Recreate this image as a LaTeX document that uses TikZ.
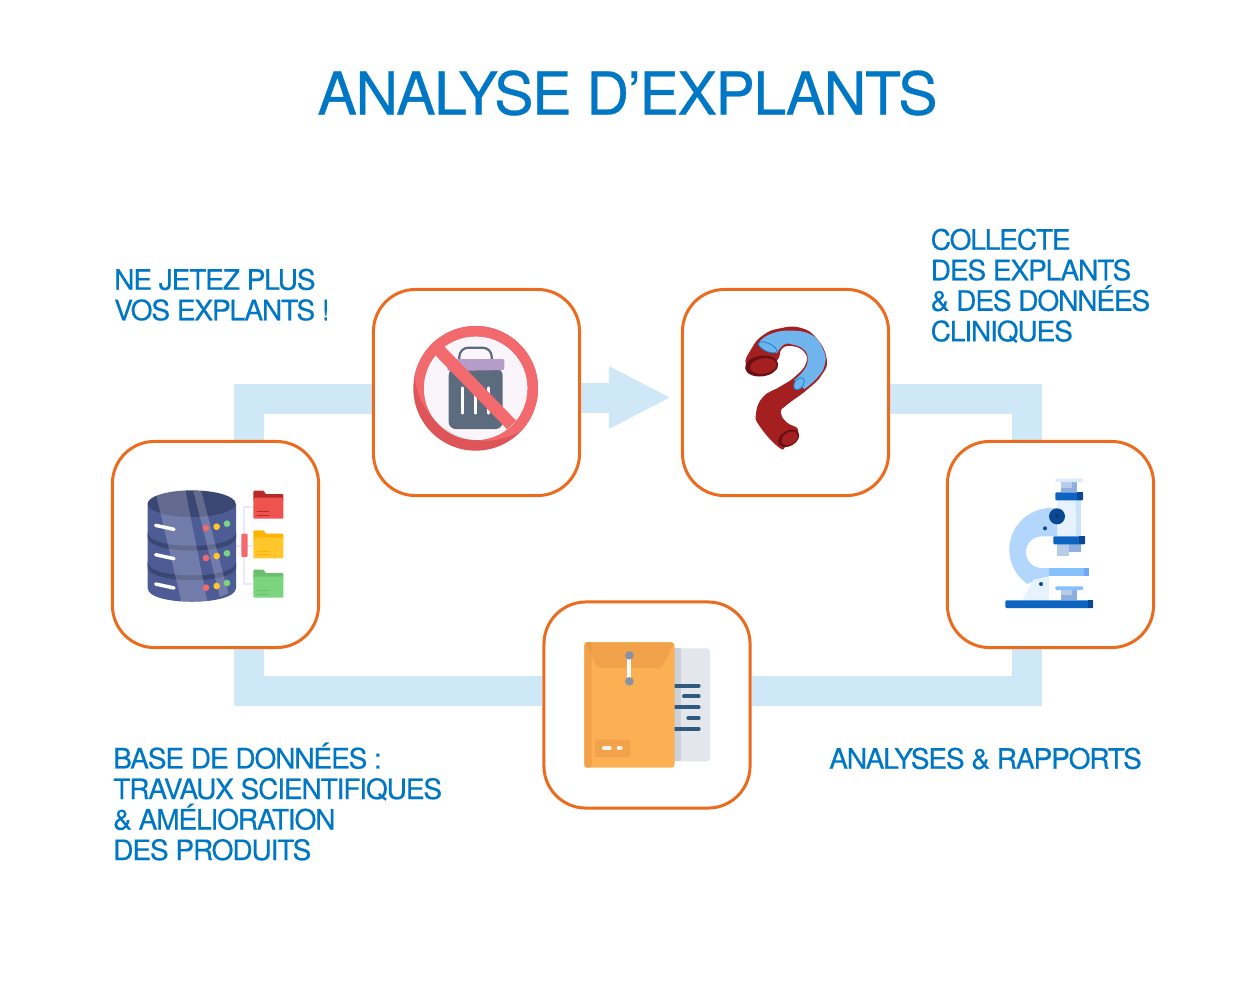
\documentclass[tikz,border=0pt]{standalone}
\usepackage{fontspec}
\setmainfont{TeX Gyre Heros}
\newfontfamily\labelfont[LetterSpace=-4.2, FakeBold=0.35]{TeX Gyre Heros}
\newfontfamily\titlefont[LetterSpace=-2.4, FakeBold=0.5]{TeX Gyre Heros}
\usetikzlibrary{arrows.meta,backgrounds}
\definecolor{titleblue}{HTML}{0077C4}
\definecolor{bandblue}{HTML}{CFE8F7}
\definecolor{boxorange}{HTML}{EC6C1F}
\definecolor{slate}{HTML}{5C6B7E}
\definecolor{lidpurple}{HTML}{B69DC9}
\definecolor{ringred}{HTML}{F2696E}
\definecolor{ringdark}{HTML}{DD5558}
\definecolor{vesselred}{HTML}{A31F20}
\definecolor{vesseldark}{HTML}{6B0E15}
\definecolor{vesselblue}{HTML}{70B4EE}
\definecolor{micblue}{HTML}{0D63C0}
\definecolor{micdark}{HTML}{0B4A93}
\definecolor{micpale}{HTML}{B3D7FC}
\definecolor{micwhite}{HTML}{E6F2FE}
\definecolor{micsky}{HTML}{85C2FC}
\definecolor{micglass}{HTML}{8FB0DE}
\definecolor{micglasslight}{HTML}{B8CCE8}
\definecolor{enveloporange}{HTML}{FBB054}
\definecolor{flapbrown}{HTML}{F2A24A}
\definecolor{flapdark}{HTML}{E89C42}
\definecolor{paperlight}{HTML}{E3E7EB}
\definecolor{papershade}{HTML}{CBD2DA}
\definecolor{paperink}{HTML}{2F5A80}
\definecolor{pingrey}{HTML}{8A93A6}
\definecolor{dbblue}{HTML}{4E5C96}
\definecolor{dbdark}{HTML}{3B4773}
\definecolor{dbline}{HTML}{E8EAFB}
\definecolor{dotyellow}{HTML}{FFC72C}
\definecolor{dotgreen}{HTML}{7BD47F}
\tikzset{
	iconbox/.style={draw=boxorange, line width=0.03cm, fill=white, rounded corners=0.42cm, minimum size=2.06cm, inner sep=0},
	band/.style={draw=bandblue, line width=0.3cm},
	labeltext/.style={text=titleblue, anchor=north west, align=left, inner sep=0, font=\labelfont\fontsize{8}{8.68}\selectfont},
	titletext/.style={text=titleblue, inner sep=0, font=\titlefont\fontsize{16.8}{18}\selectfont}
}
\begin{document}
\begin{tikzpicture}[x=0.01cm, y=-0.01cm]
		%%%%% START %%%%%
		\useasboundingbox (0, 0) rectangle (1255, 981);
		
		\node[iconbox] (trash) at (476.5, 392.5) {};
		\node[iconbox] (vessel) at (785.5, 392.5) {};
		\node[iconbox] (base) at (215.5, 544.5) {};
		\node[iconbox] (scope) at (1050.5, 544.5) {};
		\node[iconbox] (envelope) at (647, 705) {};
		
		\coordinate (topleft) at (249, 399);
		\coordinate (topright) at (1026.5, 399);
		\coordinate (lowleft) at (249, 691);
		\coordinate (lowright) at (1026.5, 691);
		\coordinate (arrowtip) at (671, 397.5);
		
		% bands go under the boxes
		\begin{pgfonlayer}{background}
			\draw[band] (topleft |- base.north) -- (topleft) -- (topleft -| trash.west);
			\draw[band] (topright -| vessel.east) -- (topright) -- (topright |- scope.north);
			\draw[band] (lowright |- scope.south) -- (lowright) -- (lowright -| envelope.east);
			\draw[band] (lowleft -| envelope.west) -- (lowleft) -- (lowleft |- base.south);
			\draw[band, -{Triangle[length=0.62cm, width=0.58cm]}] (trash.east |- arrowtip) -- (arrowtip);
		\end{pgfonlayer}
		
		\node[titletext] (title) at (627.5, 93) {ANALYSE D’EXPLANTS};
		\node[labeltext] (jetez) at (113.5, 268) {NE JETEZ PLUS\\VOS EXPLANTS !};
		\node[labeltext] (collecte) at (930, 228) {COLLECTE\\DES EXPLANTS\\\& DES DONNÉES\\CLINIQUES};
		\node[labeltext] (donnees) at (112.5, 742) {BASE DE DONNÉES :\\TRAVAUX SCIENTIFIQUES\\\& AMÉLIORATION\\DES PRODUITS};
		\node[labeltext] (rapports) at (828.5, 747) {ANALYSES \& RAPPORTS};
		
		%%%%% trash
		\begin{scope}[shift={(370, 285)}, scale=1/3]
			\fill[ringdark] (317, 310) circle [radius=187];
			\begin{scope}
				\clip (317, 310) circle [radius=187];
				\fill[ringred] (345, 255) circle [radius=212];
			\end{scope}
			\fill[black!12!white] (317, 310) circle [radius=155];
			\begin{scope}
				\clip (317, 310) circle [radius=155];
				\fill[violet!4!white] (345, 255) circle [radius=212];
			\end{scope}
			\draw[slate, line width=0.022cm, rounded corners=0.09cm] (268, 230) -- (268, 188) -- (365, 188) -- (365, 230);
			\fill[slate, rounded corners=0.07cm] (236, 250) -- (398, 250) -- (398, 432) -- (236, 432) -- cycle;
			\fill[lidpurple, rounded corners=0.02cm] (232, 222) -- (403, 222) -- (403, 255) -- (232, 258) -- cycle;
			\foreach \stripex in {277, 317, 356}
				\draw[white, line width=0.025cm, line cap=round] (\stripex, 308) -- (\stripex, 385);
			\draw[ringred, line width=0.125cm] (207, 195) -- (425, 420);
		\end{scope}
		
		%%%%% vessel
		\begin{scope}[shift={(680, 285)}, scale=1/3]
			\fill[vesselred] plot[smooth cycle, tension=0.8] coordinates {(198, 240) (215, 190) (250, 150) (300, 130) (360, 128) (410, 160) (440, 222) (425, 270) (380, 315) (320, 360) (302, 382) (320, 412) (355, 437) (320, 480) (298, 488) (240, 425) (228, 385) (250, 335) (300, 305) (345, 275) (378, 235) (372, 200) (335, 183) (305, 192) (292, 225) (245, 265)};
			\fill[vesselblue] plot[smooth, tension=0.8] coordinates {(235, 175) (265, 150) (325, 137) (395, 150) (430, 195) (434, 240) (410, 280) (373, 312)} -- plot[smooth, tension=0.8] coordinates {(342, 285) (370, 258) (383, 225) (372, 194) (335, 178) (310, 180) (290, 205)} -- cycle;
			\draw[fill=vesselblue, draw=cyan!70!blue, line width=0.008cm, rotate around={-25:(263, 187)}] (263, 187) ellipse [x radius=30, y radius=12];
			\draw[fill=vesselblue, draw=cyan!70!blue, line width=0.008cm, rotate around={-35:(357, 296)}] (357, 296) ellipse [x radius=13, y radius=20];
			\fill[vesseldark, rotate around={8:(245, 243)}] (245, 243) ellipse [x radius=50, y radius=31];
			\fill[vesselred, rotate around={8:(250, 243)}] (250, 243) ellipse [x radius=40, y radius=23];
			\fill[vesseldark, rotate around={30:(326, 460)}] (326, 460) ellipse [x radius=34, y radius=23];
			\fill[vesselred, rotate around={30:(329, 460)}] (329, 460) ellipse [x radius=26, y radius=18];
		\end{scope}
		
		%%%%% database
		\begin{scope}[shift={(110, 438)}, scale=1/3]
			\draw[dbline, line width=0.02cm] (378, 323) -- (430, 323);
			\draw[dbline, line width=0.02cm] (430, 207) -- (403, 207) -- (403, 437) -- (430, 437);
			\fill[dbblue] (113, 197) -- (113, 450) .. controls (113, 505) and (378, 505) .. (378, 450) -- (378, 197) -- cycle;
			\foreach \discy in {283, 372}
				\fill[dbdark] (113, \discy) .. controls (113, \discy+54) and (378, \discy+54) .. (378, \discy) -- (378, \discy+14) .. controls (378, \discy+68) and (113, \discy+68) .. (113, \discy+14) -- cycle;
			\fill[dbdark] (245, 197) ellipse [x radius=132, y radius=40];
			\fill[white, opacity=0.2] (137, 165) -- (226, 157) -- (292, 490) -- (214, 490) -- cycle;
			\fill[white, opacity=0.2] (250, 158) -- (274, 160) -- (355, 466) -- (330, 477) -- cycle;
			\foreach \discy in {0, 88, 176}
				\draw[white, line width=0.035cm, line cap=round] (137, 262+\discy) -- (192, 274+\discy);
			\foreach \rowy/\yelly/\greeny in {270/266/257, 360/354/346, 449/444/435} {
				\fill[ringred] (288, \rowy) circle [radius=10];
				\fill[dotyellow] (320, \yelly) circle [radius=10];
				\fill[dotgreen] (351, \greeny) circle [radius=10];
			}
			\fill[ringred, rounded corners=0.01cm] (394, 287) rectangle (413, 357);
			\foreach \foldery/\backcol/\frontcol in {158/B72B2B/EF5350, 277/FFB300/FFC72C, 395/6CBF6E/7BD47F} {
				\definecolor{folderback}{HTML}{\backcol}
				\definecolor{folderfront}{HTML}{\frontcol}
				\fill[folderback, rounded corners=0.01cm] (430, \foldery) -- (462, \foldery) -- (466, \foldery+10) -- (520, \foldery+10) -- (520, \foldery+30) -- (430, \foldery+30) -- cycle;
				\fill[folderfront, rounded corners=0.01cm] (430, \foldery+21) rectangle (520, \foldery+84);
				\draw[folderback, line width=0.006cm] (440, \foldery+63) -- (476, \foldery+63);
				\draw[folderback, line width=0.006cm] (440, \foldery+73) -- (476, \foldery+73);
			}
		\end{scope}
		
		%%%%% microscope
		\begin{scope}[shift={(945, 438)}, scale=1/3]
			\fill[micwhite] (336, 180) rectangle (407, 295);
			\fill[micpale!70!white] (392, 180) rectangle (407, 295);
			\fill[micpale] (318, 210) arc (270:125:125) -- (312, 415) -- (312, 390) -- (290, 390) arc (90:270:47.5) -- (336, 295) -- (336, 210) -- cycle;
			\fill[micwhite] (232, 487) -- (265, 425) -- (312, 415) -- (312, 487) -- cycle;
			\fill[micsky] (312, 390) rectangle (432, 414);
			\fill[micsky!85!blue] (417, 390) rectangle (432, 414);
			\fill[micglass] (349, 132) rectangle (396, 163);
			\fill[micglasslight] (349, 132) rectangle (380, 150);
			\fill[micpale!50!white, rounded corners=0.01cm] (331, 122) rectangle (414, 132);
			\fill[micblue, rounded corners=0.01cm] (331, 163) rectangle (414, 187);
			\fill[micdark] (395, 163) rectangle (414, 187);
			\fill[micglass] (372, 319) rectangle (408, 342);
			\fill[micglasslight] (336, 319) rectangle (372, 354);
			\fill[micblue, rounded corners=0.01cm] (325, 295) rectangle (420, 319);
			\fill[micdark] (402, 295) rectangle (420, 319);
			\fill[micdark] (336, 235) circle [radius=24];
			\fill[micdark!80!black] (336, 235) circle [radius=6];
			\fill[micdark] (300, 271) circle [radius=6];
			\fill[micdark] (288, 438) circle [radius=6];
			\fill[micglass] (349, 456) rectangle (396, 487);
			\fill[micglasslight] (349, 456) rectangle (380, 472);
			\fill[micsky, rounded corners=0.01cm] (331, 445) rectangle (414, 456);
			\fill[micblue, rounded corners=0.01cm] (181, 487) rectangle (444, 510);
			\fill[micdark] (428, 487) rectangle (444, 510);
		\end{scope}
		
		%%%%% envelope
		\begin{scope}[shift={(540, 598)}, scale=1/3]
			\fill[paperlight, rounded corners=0.03cm] (400, 151) rectangle (510, 490);
			\fill[papershade] (400, 151) rectangle (424, 490);
			\foreach \linex/\liney in {405/263, 432/295, 405/328, 445/360, 405/393}
				\draw[paperink, line width=0.04cm, line cap=round] (\linex, \liney) -- (476, \liney);
			\fill[enveloporange, rounded corners=0.03cm] (133, 133) rectangle (404, 509);
			\fill[flapbrown, rounded corners=0.03cm] (133, 133) rectangle (155, 509);
			\fill[flapbrown, rounded corners=0.04cm] (133, 133) -- (404, 133) -- (365, 210) -- (172, 210) -- cycle;
			\fill[flapdark] (136, 133) -- (155, 133) -- (155, 175) -- cycle;
			\draw[white, line width=0.04cm] (268, 172) -- (268, 250);
			\fill[pingrey] (268, 172) circle [radius=13];
			\fill[pingrey] (268, 250) circle [radius=13];
			\fill[flapbrown, rounded corners=0.02cm] (165, 425) rectangle (270, 477);
			\draw[white!95!black, line width=0.04cm, line cap=round] (192, 451) -- (209, 451);
			\draw[white!95!black, line width=0.04cm, line cap=round] (236, 451) -- (242, 451);
		\end{scope}
		%%%%% END %%%%%
	\end{tikzpicture}
\end{document}
